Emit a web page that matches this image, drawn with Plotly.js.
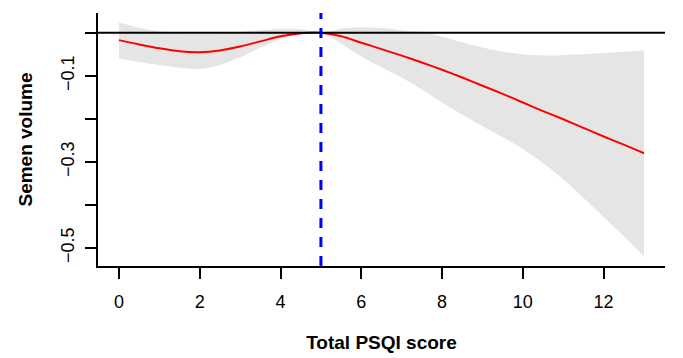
<!DOCTYPE html>
<html>
<head>
<meta charset="utf-8">
<script src="https://cdn.plot.ly/plotly-3.0.1.min.js"></script>
<style>html,body{margin:0;padding:0;background:#fff;}#chart{width:683px;height:358px;}</style>
</head>
<body>
<div id="chart"></div>
<script>
// PSQI score grid
const psqi = [0,0.5,1,1.5,2,2.5,3,3.5,4,4.5,5,5.5,6,6.5,7,7.5,8,8.5,9,9.5,10,10.5,11,11.5,12,12.5,13];
// Estimated effect on semen volume (red curve)
const fitVals = [-0.017,-0.027,-0.036,-0.043,-0.045,-0.041,-0.032,-0.020,-0.008,-0.001,0,-0.008,-0.023,-0.038,-0.053,-0.069,-0.086,-0.104,-0.123,-0.142,-0.162,-0.182,-0.201,-0.221,-0.241,-0.260,-0.280];
// 95% CI upper bound
const upperVals = [0.024,0.012,0.003,-0.002,-0.003,-0.002,0.002,0.006,0.009,0.008,0,0.010,0.013,0.011,0.006,0.001,-0.009,-0.022,-0.034,-0.044,-0.050,-0.053,-0.052,-0.050,-0.047,-0.044,-0.041];
// 95% CI lower bound
const lowerVals = [-0.060,-0.068,-0.075,-0.081,-0.084,-0.075,-0.057,-0.035,-0.015,-0.004,0,-0.025,-0.055,-0.080,-0.104,-0.132,-0.162,-0.190,-0.217,-0.243,-0.270,-0.303,-0.340,-0.384,-0.428,-0.473,-0.520];
// Reference values
const refX = 5;
const refY = 0;
// Axis ticks
const xTicks = [0,2,4,6,8,10,12];
const yTickVals = [0,-0.1,-0.2,-0.3,-0.4,-0.5];
const yTickText = ['', '\u22120.1', '', '\u22120.3', '', '\u22120.5'];

const traces = [
  {x: psqi, y: lowerVals, type: 'scatter', mode: 'lines', line: {width: 0, shape: 'spline', smoothing: 0.8, color: '#E5E5E5'}, hoverinfo: 'skip', showlegend: false},
  {x: psqi, y: upperVals, type: 'scatter', mode: 'lines', fill: 'tonexty', fillcolor: '#E5E5E5', line: {width: 0, shape: 'spline', smoothing: 0.8, color: '#E5E5E5'}, hoverinfo: 'skip', showlegend: false},
  {x: psqi, y: fitVals, type: 'scatter', mode: 'lines', line: {color: '#FF0000', width: 2, shape: 'spline', smoothing: 0.8}, showlegend: false}
];

const font = {family: '"Liberation Sans", Arial, sans-serif', color: '#000'};

const layout = {
  width: 683, height: 358,
  margin: {l: 98, r: 18, t: 13, b: 92},
  paper_bgcolor: '#fff', plot_bgcolor: '#fff',
  font: Object.assign({size: 18}, font),
  showlegend: false,
  xaxis: {
    range: [-0.52, 13.52], showgrid: false, zeroline: false,
    showline: true, linecolor: '#000', linewidth: 2,
    ticks: 'outside', ticklen: 11, tickwidth: 2, tickcolor: '#000',
    tickvals: xTicks, ticktext: xTicks.map(String),
    tickfont: Object.assign({size: 18}, font),
    ticklabelstandoff: 7,
    title: {text: '<b>Total PSQI score</b>', font: Object.assign({size: 19}, font), standoff: 25}
  },
  yaxis: {
    range: [-0.542, 0.046], showgrid: false, zeroline: false,
    showline: true, linecolor: '#000', linewidth: 2,
    ticks: 'outside', ticklen: 11, tickwidth: 2, tickcolor: '#000',
    tickvals: yTickVals, ticktext: yTickText, tickangle: -90,
    tickfont: Object.assign({size: 18}, font),
    ticklabelstandoff: 4,
    title: {text: '<b>Semen volume</b>', font: Object.assign({size: 19}, font), standoff: 20}
  },
  shapes: [
    {type: 'line', xref: 'paper', x0: 0, x1: 1, yref: 'y', y0: refY, y1: refY, line: {color: '#000', width: 2}, layer: 'above'},
    {type: 'line', xref: 'x', x0: refX, x1: refX, yref: 'paper', y0: 0, y1: 1, line: {color: '#0000FF', width: 3, dash: '10px,9px'}, layer: 'above'}
  ]
};

Plotly.newPlot('chart', traces, layout, {displayModeBar: false, staticPlot: true});
</script>
</body>
</html>
